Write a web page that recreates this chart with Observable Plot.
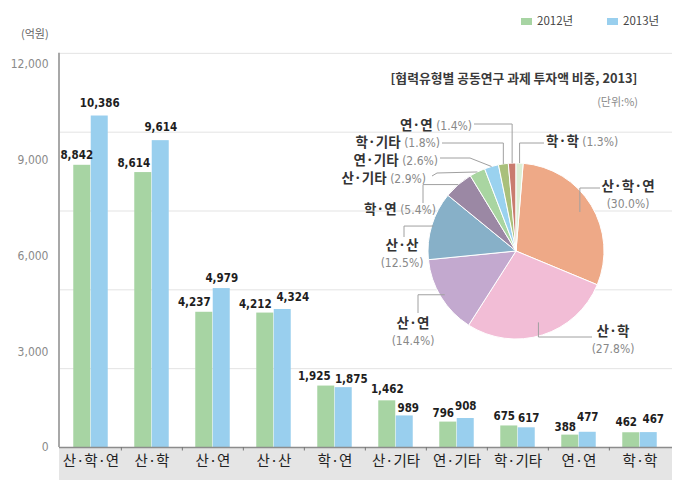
<!DOCTYPE html>
<html>
<head>
<meta charset="utf-8">
<script src="https://cdn.jsdelivr.net/npm/d3@7"></script>
<script src="https://cdn.jsdelivr.net/npm/@observablehq/plot@0.6"></script>
<style>
  body { margin: 0; background: #fff; }
  #chart svg { display: block; }
</style>
</head>
<body>
<div id="chart"></div>
<script>
// ---------------- DATA ----------------
const categories = ["산·학·연", "산·학", "산·연", "산·산", "학·연", "산·기타", "연·기타", "학·기타", "연·연", "학·학"];
const values2012 = [8842, 8614, 4237, 4212, 1925, 1462, 796, 675, 388, 462];
const values2013 = [10386, 9614, 4979, 4324, 1875, 989, 908, 617, 477, 467];
const years = ["2012년", "2013년"];
const yTicks = [0, 3000, 6000, 9000, 12000];
const gridlineValues = [2470, 4940, 7410, 9880, 12350];   // decorative guide lines of the original
const yUnit = "(억원)";

const pieCategories = ["산·학·연", "산·학", "산·연", "산·산", "학·연", "산·기타", "연·기타", "학·기타", "연·연", "학·학"];
const pieShares = [30.0, 27.8, 14.4, 12.5, 5.4, 2.9, 2.6, 1.8, 1.4, 1.3];
const pieTitle = "[협력유형별 공동연구 과제 투자액 비중, 2013]";
const pieUnit = "(단위:%)";

// ---------------- STYLE / LAYOUT ----------------
const W = 683, H = 496;
const M = {top: 64, right: 11, bottom: 49, left: 59};
const yearColors = ["#a7d4a3", "#99cfee"];
const pieColors = ["#eea987", "#f2bdd6", "#c3a9cf", "#87b0c8", "#9b88a4", "#a9d5a1", "#9ad2ef", "#a9c07b", "#c97c6f", "#dcefd5"];
const krFont = "'Noto Sans CJK KR', 'Noto Sans', sans-serif";
const numFont = "'DejaVu Sans Condensed', 'DejaVu Sans', sans-serif";
const fmt = d3.format(",");

const step = (W - M.left - M.right) / categories.length;
const padInner = 0.715;
const barHalf = step * (1 - padInner) / 2;

// value-label nudges (pixels, relative to the bar's top centre)
const labelNudge = [
  {dx: [-5.5, -9.5, -10, -10, -12, 0, -5, -5, -5, -5], dy: [-10, -9, -10, -9, -10, -12, -9, -10, -8, -10]},
  {dx: [0, 0, 0, 10, 7.5, 3.5, 0, 2, 0, 4.5], dy: [-12.5, -13, -10, -12, -8, -8, -12, -9, -15, -13]}
];

// pie geometry & label layout
const pie = {cx: 516, cy: 251, r: 88};
const pieLabelLayout = {
  "산·학·연": {k: 0.85, route: s => [s, [s[0], 188], [600, 188]], two: true, x: 628, y: 187},
  "산·학":   {k: 0.85, route: s => [s, [s[0], 337], [592, 337]], two: true, x: 613, y: 332},
  "산·연":   {k: 0.95, route: s => [s, [418, s[1]], [418, 313]], two: true, x: 413, y: 324},
  "산·산":   {k: 0.98, route: s => [s, [404, s[1]], [404, 237]], two: true, x: 402, y: 246},
  "학·연":   {k: 1.0, route: s => [s, [423, s[1]], [423, 203]], two: false, x: 436, y: 210, anchor: "end"},
  "산·기타": {k: 1.0, route: s => [s, [437, 173], [432, 176]], two: false, x: 426, y: 179, anchor: "end"},
  "연·기타": {k: 1.0, route: s => [s, [470, 158], [440, 158]], two: false, x: 438, y: 161, anchor: "end"},
  "학·기타": {k: 1.0, route: s => [s, [s[0], 143], [442, 143]], two: false, x: 440, y: 143, anchor: "end"},
  "연·연":   {k: 1.0, route: s => [s, [s[0], 124], [474, 124]], two: false, x: 472, y: 126, anchor: "end"},
  "학·학":   {k: 1.0, route: s => [s, [s[0], 143], [544, 143]], two: false, x: 546, y: 142, anchor: "start"}
};

// ---------------- MARKS ----------------
function band(index, scales, values, dims) {
  const g = d3.create("svg:g");
  const x0 = dims.marginLeft, x1 = dims.width - dims.marginRight, yb = dims.height - dims.marginBottom;
  g.append("rect").attr("x", x0).attr("y", yb).attr("width", x1 - x0).attr("height", 33).attr("fill", "#e5e5e5");
  return g.node();
}

function axisLine(index, scales, values, dims) {
  const g = d3.create("svg:g");
  const yTop = scales.y(d3.max(gridlineValues)), yBot = scales.y(0);
  g.append("line").attr("x1", dims.marginLeft).attr("x2", dims.marginLeft)
    .attr("y1", yTop).attr("y2", yBot).attr("stroke", "#a8a8a8").attr("stroke-width", 2);
  return g.node();
}

function pieMark() {
  const g = d3.create("svg:g");
  const total = d3.sum(pieShares);
  const start = 2 * Math.PI * pieShares[pieShares.length - 1] / total;
  const arcs = d3.pie().sort(null).startAngle(start).endAngle(start + 2 * Math.PI)(pieShares);
  const arc = d3.arc().innerRadius(0).outerRadius(pie.r);
  const slices = g.append("g").attr("transform", `translate(${pie.cx},${pie.cy})`);
  slices.selectAll("path").data(arcs).join("path")
    .attr("d", arc).attr("fill", (d, i) => pieColors[i])
    .attr("stroke", "#fff").attr("stroke-width", 1);

  arcs.forEach((a, i) => {
    const name = pieCategories[i];
    const L = pieLabelLayout[name];
    const mid = (a.startAngle + a.endAngle) / 2;
    const s = [pie.cx + L.k * pie.r * Math.sin(mid), pie.cy - L.k * pie.r * Math.cos(mid)];
    const pts = L.route(s);
    g.append("path").attr("d", d3.line()(pts)).attr("fill", "none")
      .attr("stroke", "#a0a0a0").attr("stroke-width", 1);
    const pct = `(${pieShares[i].toFixed(1)}%)`;
    if (L.two) {
      g.append("text").attr("x", L.x).attr("y", L.y).attr("text-anchor", "middle")
        .attr("dominant-baseline", "middle").attr("font-family", krFont).attr("font-weight", "bold")
        .attr("font-size", 13.5).attr("fill", "#333").text(name);
      g.append("text").attr("x", L.x).attr("y", L.y + 17).attr("text-anchor", "middle")
        .attr("dominant-baseline", "middle").attr("font-family", numFont)
        .attr("font-size", 12).attr("fill", "#888").text(pct);
    } else {
      const t = g.append("text").attr("x", L.x).attr("y", L.y).attr("text-anchor", L.anchor)
        .attr("dominant-baseline", "middle");
      t.append("tspan").attr("font-family", krFont).attr("font-weight", "bold")
        .attr("font-size", 13.5).attr("fill", "#333").text(name);
      t.append("tspan").attr("font-family", numFont).attr("font-size", 12)
        .attr("fill", "#888").text(" " + pct);
    }
  });

  g.append("text").attr("x", 514).attr("y", 80).attr("text-anchor", "middle")
    .attr("dominant-baseline", "middle").attr("font-family", krFont).attr("font-weight", "bold")
    .attr("font-size", 12.8).attr("fill", "#3a3a3a").text(pieTitle);
  g.append("text").attr("x", 638).attr("y", 103).attr("text-anchor", "end")
    .attr("dominant-baseline", "middle").attr("font-family", krFont)
    .attr("font-size", 11).attr("fill", "#8a8a8a").text(pieUnit);
  return g.node();
}

function legendAndUnit() {
  const g = d3.create("svg:g");
  const lx = [521, 607];
  years.forEach((yr, s) => {
    g.append("rect").attr("x", lx[s]).attr("y", 18).attr("width", 11).attr("height", 7).attr("fill", yearColors[s]);
    g.append("text").attr("x", lx[s] + 16).attr("y", 22).attr("text-anchor", "start")
      .attr("dominant-baseline", "middle")
      .attr("font-family", krFont).attr("font-size", 11.5).attr("fill", "#444").text(yr);
  });
  g.append("text").attr("x", 21).attr("y", 35).attr("text-anchor", "start").attr("dominant-baseline", "middle")
    .attr("font-family", krFont).attr("font-size", 11).attr("fill", "#666").text(yUnit);
  return g.node();
}

const series = [values2012, values2013];
const barMarks = series.map((vals, s) =>
  Plot.barY(categories.map((c, i) => ({cat: c, value: vals[i]})), {
    x: "cat", y: "value", fill: yearColors[s], dx: (s ? 1 : -1) * barHalf
  })
);
const labelMarks = [];
series.forEach((vals, s) => {
  categories.forEach((c, i) => {
    labelMarks.push(Plot.text([{cat: c, value: vals[i]}], {
      x: "cat", y: "value", text: d => fmt(d.value),
      dx: (s ? 1 : -1) * barHalf + labelNudge[s].dx[i], dy: labelNudge[s].dy[i],
      fontFamily: numFont, fontWeight: "bold", fontSize: 11.5, fill: "#1e1e1e"
    }));
  });
});

const chart = Plot.plot({
  width: W, height: H,
  marginTop: M.top, marginRight: M.right, marginBottom: M.bottom, marginLeft: M.left,
  style: {fontFamily: krFont, background: "#fff", overflow: "visible"},
  x: {domain: categories, paddingInner: padInner, paddingOuter: padInner / 2, axis: null},
  y: {domain: [0, 12000], axis: null},
  marks: [
    band,
    Plot.ruleY(gridlineValues, {stroke: "#e3e3e3", strokeWidth: 1}),
    ...barMarks,
    Plot.ruleY([0], {stroke: "#8c8c8c", strokeWidth: 1.5}),
    axisLine,
    Plot.ruleX(categories.slice(1), {x: d => d, y1: 0, y2: -110, dx: -step / 2, stroke: "#777", strokeWidth: 1}),
    Plot.text(yTicks, {y: d => d, text: d => fmt(d), frameAnchor: "left", textAnchor: "end", dx: -11,
      fill: "#8a8a8a", fontSize: 12, fontFamily: numFont}),
    Plot.text(categories, {x: d => d, text: d => d, frameAnchor: "bottom", dy: 18,
      fontSize: 14.5, fill: "#222", fontFamily: krFont}),
    ...labelMarks,
    pieMark,
    legendAndUnit
  ]
});
document.getElementById("chart").appendChild(chart);
</script>
</body>
</html>
